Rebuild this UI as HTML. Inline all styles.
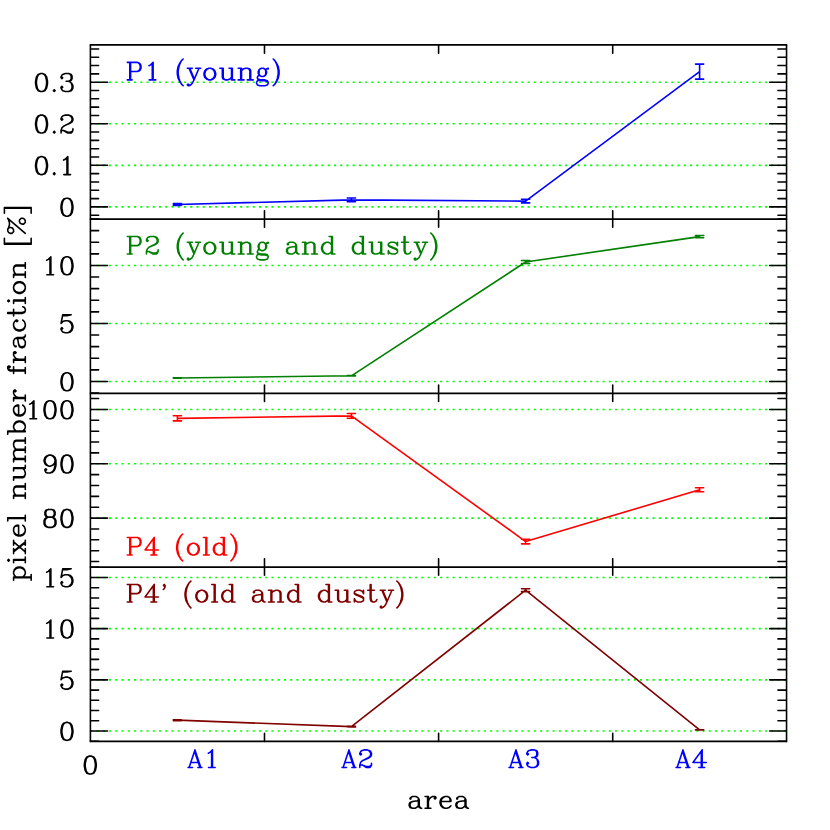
<!DOCTYPE html>
<html><head><meta charset="utf-8"><title>pixel number fraction</title>
<style>html,body{margin:0;padding:0;background:#fff;font-family:"Liberation Sans",sans-serif}svg{display:block}</style>
</head><body>
<svg width="830" height="830" viewBox="0 0 830 830">
<path d="M90.25 206.90 H786.55 M90.25 165.33 H786.55 M90.25 123.77 H786.55 M90.25 82.20 H786.55 M90.25 381.45 H786.55 M90.25 323.45 H786.55 M90.25 265.45 H786.55 M90.25 518.10 H786.55 M90.25 463.77 H786.55 M90.25 409.45 H786.55 M90.25 731.05 H786.55 M90.25 679.85 H786.55 M90.25 628.65 H786.55 M90.25 577.45 H786.55" stroke="#00ff00" stroke-width="1.6" stroke-dasharray="2.1000 4.1474" fill="none"/>
<path d="M177.40 204.50 L351.40 199.90 L525.60 201.10 L699.60 71.60 M177.40 203.65 V205.35 M173.30 203.65 H181.50 M173.30 205.35 H181.50 M351.40 198.00 V201.80 M347.30 198.00 H355.50 M347.30 201.80 H355.50 M525.60 199.30 V202.90 M521.50 199.30 H529.70 M521.50 202.90 H529.70 M699.60 64.10 V79.10 M695.50 64.10 H703.70 M695.50 79.10 H703.70" stroke="#0000ff" stroke-width="1.6" fill="none" stroke-linejoin="round" stroke-linecap="round"/>
<path d="M177.40 378.05 L351.40 375.80 L525.60 262.00 L699.60 236.65 M177.40 377.80 V378.30 M173.30 377.80 H181.50 M173.30 378.30 H181.50 M351.40 375.60 V376.00 M347.30 375.60 H355.50 M347.30 376.00 H355.50 M525.60 260.55 V263.45 M521.50 260.55 H529.70 M521.50 263.45 H529.70 M699.60 235.50 V237.80 M695.50 235.50 H703.70 M695.50 237.80 H703.70" stroke="#008000" stroke-width="1.6" fill="none" stroke-linejoin="round" stroke-linecap="round"/>
<path d="M177.40 418.35 L351.40 415.85 L525.60 541.55 L699.60 489.75 M177.40 415.80 V420.90 M173.30 415.80 H181.50 M173.30 420.90 H181.50 M351.40 413.50 V418.20 M347.30 413.50 H355.50 M347.30 418.20 H355.50 M525.60 539.25 V543.85 M521.50 539.25 H529.70 M521.50 543.85 H529.70 M699.60 487.70 V491.80 M695.50 487.70 H703.70 M695.50 491.80 H703.70" stroke="#ff0000" stroke-width="1.6" fill="none" stroke-linejoin="round" stroke-linecap="round"/>
<path d="M177.40 720.15 L351.40 726.65 L525.60 590.15 L699.60 729.90 M177.40 719.70 V720.60 M173.30 719.70 H181.50 M173.30 720.60 H181.50 M351.40 726.35 V726.95 M347.30 726.35 H355.50 M347.30 726.95 H355.50 M525.60 588.70 V591.60 M521.50 588.70 H529.70 M521.50 591.60 H529.70 M699.60 729.80 V730.00 M695.50 729.80 H703.70 M695.50 730.00 H703.70" stroke="#800000" stroke-width="1.6" fill="none" stroke-linejoin="round" stroke-linecap="round"/>
<path d="M89.80 44.95 H787.15 M89.80 219.00 H787.15 M89.80 393.25 H787.15 M89.80 567.00 H787.15 M89.80 741.40 H787.15" stroke="#000" stroke-width="1.75" fill="none"/>
<path d="M90.40 44.95 V741.40 M786.55 44.95 V741.40 M264.49 44.95 v8.20 M264.49 210.80 V227.20 M264.49 385.05 V401.45 M264.49 558.80 V575.20 M264.49 741.40 v-8.20 M438.60 44.95 v8.20 M438.60 210.80 V227.20 M438.60 385.05 V401.45 M438.60 558.80 V575.20 M438.60 741.40 v-8.20 M612.71 44.95 v8.20 M612.71 210.80 V227.20 M612.71 385.05 V401.45 M612.71 558.80 V575.20 M612.71 741.40 v-8.20 M90.40 215.21 h8.20 M786.55 215.21 h-8.60 M90.40 206.90 h17.20 M786.55 206.90 h-16.90 M90.40 198.59 h8.20 M786.55 198.59 h-8.60 M90.40 190.27 h8.20 M786.55 190.27 h-8.60 M90.40 181.96 h8.20 M786.55 181.96 h-8.60 M90.40 173.65 h8.20 M786.55 173.65 h-8.60 M90.40 165.33 h17.20 M786.55 165.33 h-16.90 M90.40 157.02 h8.20 M786.55 157.02 h-8.60 M90.40 148.71 h8.20 M786.55 148.71 h-8.60 M90.40 140.39 h8.20 M786.55 140.39 h-8.60 M90.40 132.08 h8.20 M786.55 132.08 h-8.60 M90.40 123.77 h17.20 M786.55 123.77 h-16.90 M90.40 115.45 h8.20 M786.55 115.45 h-8.60 M90.40 107.14 h8.20 M786.55 107.14 h-8.60 M90.40 98.83 h8.20 M786.55 98.83 h-8.60 M90.40 90.51 h8.20 M786.55 90.51 h-8.60 M90.40 82.20 h17.20 M786.55 82.20 h-16.90 M90.40 73.89 h8.20 M786.55 73.89 h-8.60 M90.40 65.57 h8.20 M786.55 65.57 h-8.60 M90.40 57.26 h8.20 M786.55 57.26 h-8.60 M90.40 48.95 h8.20 M786.55 48.95 h-8.60 M90.40 393.05 h8.20 M786.55 393.05 h-8.60 M90.40 381.45 h17.20 M786.55 381.45 h-16.90 M90.40 369.85 h8.20 M786.55 369.85 h-8.60 M90.40 358.25 h8.20 M786.55 358.25 h-8.60 M90.40 346.65 h8.20 M786.55 346.65 h-8.60 M90.40 335.05 h8.20 M786.55 335.05 h-8.60 M90.40 323.45 h17.20 M786.55 323.45 h-16.90 M90.40 311.85 h8.20 M786.55 311.85 h-8.60 M90.40 300.25 h8.20 M786.55 300.25 h-8.60 M90.40 288.65 h8.20 M786.55 288.65 h-8.60 M90.40 277.05 h8.20 M786.55 277.05 h-8.60 M90.40 265.45 h17.20 M786.55 265.45 h-16.90 M90.40 253.85 h8.20 M786.55 253.85 h-8.60 M90.40 242.25 h8.20 M786.55 242.25 h-8.60 M90.40 230.65 h8.20 M786.55 230.65 h-8.60 M90.40 219.05 h8.20 M786.55 219.05 h-8.60 M90.40 561.56 h8.20 M786.55 561.56 h-8.60 M90.40 550.70 h8.20 M786.55 550.70 h-8.60 M90.40 539.83 h8.20 M786.55 539.83 h-8.60 M90.40 528.97 h8.20 M786.55 528.97 h-8.60 M90.40 518.10 h17.20 M786.55 518.10 h-16.90 M90.40 507.24 h8.20 M786.55 507.24 h-8.60 M90.40 496.37 h8.20 M786.55 496.37 h-8.60 M90.40 485.50 h8.20 M786.55 485.50 h-8.60 M90.40 474.64 h8.20 M786.55 474.64 h-8.60 M90.40 463.77 h17.20 M786.55 463.77 h-16.90 M90.40 452.91 h8.20 M786.55 452.91 h-8.60 M90.40 442.05 h8.20 M786.55 442.05 h-8.60 M90.40 431.18 h8.20 M786.55 431.18 h-8.60 M90.40 420.31 h8.20 M786.55 420.31 h-8.60 M90.40 409.45 h17.20 M786.55 409.45 h-16.90 M90.40 398.58 h8.20 M786.55 398.58 h-8.60 M90.40 741.29 h8.20 M786.55 741.29 h-8.60 M90.40 731.05 h17.20 M786.55 731.05 h-16.90 M90.40 720.81 h8.20 M786.55 720.81 h-8.60 M90.40 710.57 h8.20 M786.55 710.57 h-8.60 M90.40 700.33 h8.20 M786.55 700.33 h-8.60 M90.40 690.09 h8.20 M786.55 690.09 h-8.60 M90.40 679.85 h17.20 M786.55 679.85 h-16.90 M90.40 669.61 h8.20 M786.55 669.61 h-8.60 M90.40 659.37 h8.20 M786.55 659.37 h-8.60 M90.40 649.13 h8.20 M786.55 649.13 h-8.60 M90.40 638.89 h8.20 M786.55 638.89 h-8.60 M90.40 628.65 h17.20 M786.55 628.65 h-16.90 M90.40 618.41 h8.20 M786.55 618.41 h-8.60 M90.40 608.17 h8.20 M786.55 608.17 h-8.60 M90.40 597.93 h8.20 M786.55 597.93 h-8.60 M90.40 587.69 h8.20 M786.55 587.69 h-8.60 M90.40 577.45 h17.20 M786.55 577.45 h-16.90 M90.40 567.21 h8.20 M786.55 567.21 h-8.60" stroke="#000" stroke-width="1.58" fill="none" stroke-linecap="round" stroke-linejoin="miter"/>
<path transform="translate(125.60 79.90) translate(0.00 0)" d="M4.17 -17.56 L4.17 0.00 M5.00 -17.56 L5.00 0.00 M1.67 -17.56 L11.68 -17.56 L13.88 -16.72 L14.61 -15.88 L15.35 -14.21 L15.35 -11.70 L14.61 -10.03 L13.88 -9.20 L11.68 -8.36 L5.00 -8.36 M11.68 -17.56 L13.14 -16.72 L13.88 -15.88 L14.61 -14.21 L14.61 -11.70 L13.88 -10.03 L13.14 -9.20 L11.68 -8.36 M1.67 0.00 L6.51 0.00 M23.35 -14.21 L25.02 -15.05 L27.52 -17.56 L27.52 0.00 M26.69 -16.72 L26.69 0.00 M23.60 0.00 L30.19 0.00 M57.55 -20.90 L55.88 -19.23 L54.21 -16.72 L52.54 -13.38 L51.71 -9.20 L51.71 -5.85 L52.54 -1.67 L54.21 1.67 L55.88 4.18 L57.55 5.85 M55.88 -19.23 L54.21 -15.88 L53.38 -13.38 L52.54 -9.20 L52.54 -5.85 L53.38 -1.67 L54.21 0.84 L55.88 4.18 M63.38 -11.70 L68.39 0.00 M64.22 -11.70 L68.39 -1.67 M73.39 -11.70 L68.39 0.00 L66.72 3.34 L65.05 5.02 L63.38 5.85 L62.55 5.85 L61.72 5.02 L62.55 4.18 L63.38 5.02 M61.72 -11.70 L66.72 -11.70 M70.06 -11.70 L75.06 -11.70 M83.40 -11.70 L80.90 -10.87 L79.23 -9.20 L78.40 -6.69 L78.40 -5.02 L79.23 -2.51 L80.90 -0.84 L83.40 0.00 L85.07 0.00 L87.57 -0.84 L89.24 -2.51 L90.07 -5.02 L90.07 -6.69 L89.24 -9.20 L87.57 -10.87 L85.07 -11.70 L83.40 -11.70 M83.40 -11.70 L81.73 -10.87 L80.06 -9.20 L79.23 -6.69 L79.23 -5.02 L80.06 -2.51 L81.73 -0.84 L83.40 0.00 M85.07 0.00 L86.74 -0.84 L88.40 -2.51 L89.24 -5.02 L89.24 -6.69 L88.40 -9.20 L86.74 -10.87 L85.07 -11.70 M96.74 -11.70 L96.74 -2.51 L97.58 -0.84 L100.08 0.00 L101.75 0.00 L104.25 -0.84 L105.92 -2.51 M97.58 -11.70 L97.58 -2.51 L98.41 -0.84 L100.08 0.00 M105.92 -11.70 L105.92 0.00 M106.75 -11.70 L106.75 0.00 M94.24 -11.70 L97.58 -11.70 M103.42 -11.70 L106.75 -11.70 M105.92 0.00 L109.25 0.00 M115.09 -11.70 L115.09 0.00 M115.93 -11.70 L115.93 0.00 M115.93 -9.20 L117.59 -10.87 L120.10 -11.70 L121.76 -11.70 L124.27 -10.87 L125.10 -9.20 L125.10 0.00 M121.76 -11.70 L123.43 -10.87 L124.27 -9.20 L124.27 0.00 M112.59 -11.70 L115.93 -11.70 M112.59 0.00 L118.43 0.00 M121.76 0.00 L127.60 0.00 M135.94 -11.70 L134.27 -10.87 L133.44 -10.03 L132.61 -8.36 L132.61 -6.69 L133.44 -5.02 L134.27 -4.18 L135.94 -3.34 L137.61 -3.34 L139.28 -4.18 L140.11 -5.02 L140.95 -6.69 L140.95 -8.36 L140.11 -10.03 L139.28 -10.87 L137.61 -11.70 L135.94 -11.70 M134.27 -10.87 L133.44 -9.20 L133.44 -5.85 L134.27 -4.18 M139.28 -4.18 L140.11 -5.85 L140.11 -9.20 L139.28 -10.87 M140.11 -10.03 L140.95 -10.87 L142.61 -11.70 L142.61 -10.87 L140.95 -10.87 M133.44 -5.02 L132.61 -4.18 L131.77 -2.51 L131.77 -1.67 L132.61 0.00 L135.11 0.84 L139.28 0.84 L141.78 1.67 L142.61 2.51 M131.77 -1.67 L132.61 -0.84 L135.11 0.00 L139.28 0.00 L141.78 0.84 L142.61 2.51 L142.61 3.34 L141.78 5.02 L139.28 5.85 L134.27 5.85 L131.77 5.02 L130.94 3.34 L130.94 2.51 L131.77 0.84 L134.27 0.00 M147.62 -20.90 L149.29 -19.23 L150.95 -16.72 L152.62 -13.38 L153.46 -9.20 L153.46 -5.85 L152.62 -1.67 L150.95 1.67 L149.29 4.18 L147.62 5.85 M149.29 -19.23 L150.95 -15.88 L151.79 -13.38 L152.62 -9.20 L152.62 -5.85 L151.79 -1.67 L150.95 0.84 L149.29 4.18" stroke="#0000ff" stroke-width="1.58" fill="none" stroke-linecap="round" stroke-linejoin="round"/>
<path transform="translate(125.60 254.00) translate(0.00 0)" d="M4.17 -17.56 L4.17 0.00 M5.00 -17.56 L5.00 0.00 M1.67 -17.56 L11.68 -17.56 L13.88 -16.72 L14.61 -15.88 L15.35 -14.21 L15.35 -11.70 L14.61 -10.03 L13.88 -9.20 L11.68 -8.36 L5.00 -8.36 M11.68 -17.56 L13.14 -16.72 L13.88 -15.88 L14.61 -14.21 L14.61 -11.70 L13.88 -10.03 L13.14 -9.20 L11.68 -8.36 M1.67 0.00 L6.51 0.00 M21.68 -14.21 L22.52 -13.38 L21.68 -12.54 L20.85 -13.38 L20.85 -14.21 L21.68 -15.88 L22.52 -16.72 L25.02 -17.56 L28.36 -17.56 L30.86 -16.72 L31.69 -15.88 L32.53 -14.21 L32.53 -12.54 L31.69 -10.87 L29.19 -9.20 L25.02 -7.52 L23.35 -6.69 L21.68 -5.02 L20.85 -2.51 L20.85 0.00 M28.36 -17.56 L30.02 -16.72 L30.86 -15.88 L31.69 -14.21 L31.69 -12.54 L30.86 -10.87 L28.36 -9.20 L25.02 -7.52 M20.85 -1.67 L21.68 -2.51 L23.35 -2.51 L27.52 -0.84 L30.02 -0.84 L31.69 -1.67 L32.53 -2.51 M23.35 -2.51 L27.52 0.00 L30.86 0.00 L31.69 -0.84 L32.53 -2.51 L32.53 -4.18 M57.55 -20.90 L55.88 -19.23 L54.21 -16.72 L52.54 -13.38 L51.71 -9.20 L51.71 -5.85 L52.54 -1.67 L54.21 1.67 L55.88 4.18 L57.55 5.85 M55.88 -19.23 L54.21 -15.88 L53.38 -13.38 L52.54 -9.20 L52.54 -5.85 L53.38 -1.67 L54.21 0.84 L55.88 4.18 M63.38 -11.70 L68.39 0.00 M64.22 -11.70 L68.39 -1.67 M73.39 -11.70 L68.39 0.00 L66.72 3.34 L65.05 5.02 L63.38 5.85 L62.55 5.85 L61.72 5.02 L62.55 4.18 L63.38 5.02 M61.72 -11.70 L66.72 -11.70 M70.06 -11.70 L75.06 -11.70 M83.40 -11.70 L80.90 -10.87 L79.23 -9.20 L78.40 -6.69 L78.40 -5.02 L79.23 -2.51 L80.90 -0.84 L83.40 0.00 L85.07 0.00 L87.57 -0.84 L89.24 -2.51 L90.07 -5.02 L90.07 -6.69 L89.24 -9.20 L87.57 -10.87 L85.07 -11.70 L83.40 -11.70 M83.40 -11.70 L81.73 -10.87 L80.06 -9.20 L79.23 -6.69 L79.23 -5.02 L80.06 -2.51 L81.73 -0.84 L83.40 0.00 M85.07 0.00 L86.74 -0.84 L88.40 -2.51 L89.24 -5.02 L89.24 -6.69 L88.40 -9.20 L86.74 -10.87 L85.07 -11.70 M96.74 -11.70 L96.74 -2.51 L97.58 -0.84 L100.08 0.00 L101.75 0.00 L104.25 -0.84 L105.92 -2.51 M97.58 -11.70 L97.58 -2.51 L98.41 -0.84 L100.08 0.00 M105.92 -11.70 L105.92 0.00 M106.75 -11.70 L106.75 0.00 M94.24 -11.70 L97.58 -11.70 M103.42 -11.70 L106.75 -11.70 M105.92 0.00 L109.25 0.00 M115.09 -11.70 L115.09 0.00 M115.93 -11.70 L115.93 0.00 M115.93 -9.20 L117.59 -10.87 L120.10 -11.70 L121.76 -11.70 L124.27 -10.87 L125.10 -9.20 L125.10 0.00 M121.76 -11.70 L123.43 -10.87 L124.27 -9.20 L124.27 0.00 M112.59 -11.70 L115.93 -11.70 M112.59 0.00 L118.43 0.00 M121.76 0.00 L127.60 0.00 M135.94 -11.70 L134.27 -10.87 L133.44 -10.03 L132.61 -8.36 L132.61 -6.69 L133.44 -5.02 L134.27 -4.18 L135.94 -3.34 L137.61 -3.34 L139.28 -4.18 L140.11 -5.02 L140.95 -6.69 L140.95 -8.36 L140.11 -10.03 L139.28 -10.87 L137.61 -11.70 L135.94 -11.70 M134.27 -10.87 L133.44 -9.20 L133.44 -5.85 L134.27 -4.18 M139.28 -4.18 L140.11 -5.85 L140.11 -9.20 L139.28 -10.87 M140.11 -10.03 L140.95 -10.87 L142.61 -11.70 L142.61 -10.87 L140.95 -10.87 M133.44 -5.02 L132.61 -4.18 L131.77 -2.51 L131.77 -1.67 L132.61 0.00 L135.11 0.84 L139.28 0.84 L141.78 1.67 L142.61 2.51 M131.77 -1.67 L132.61 -0.84 L135.11 0.00 L139.28 0.00 L141.78 0.84 L142.61 2.51 L142.61 3.34 L141.78 5.02 L139.28 5.85 L134.27 5.85 L131.77 5.02 L130.94 3.34 L130.94 2.51 L131.77 0.84 L134.27 0.00 M162.63 -10.03 L162.63 -9.20 L161.80 -9.20 L161.80 -10.03 L162.63 -10.87 L164.30 -11.70 L167.63 -11.70 L169.30 -10.87 L170.14 -10.03 L170.97 -8.36 L170.97 -2.51 L171.80 -0.84 L172.64 0.00 M170.14 -10.03 L170.14 -2.51 L170.97 -0.84 L172.64 0.00 L173.47 0.00 M170.14 -8.36 L169.30 -7.52 L164.30 -6.69 L161.80 -5.85 L160.96 -4.18 L160.96 -2.51 L161.80 -0.84 L164.30 0.00 L166.80 0.00 L168.47 -0.84 L170.14 -2.51 M164.30 -6.69 L162.63 -5.85 L161.80 -4.18 L161.80 -2.51 L162.63 -0.84 L164.30 0.00 M179.31 -11.70 L179.31 0.00 M180.14 -11.70 L180.14 0.00 M180.14 -9.20 L181.81 -10.87 L184.31 -11.70 L185.98 -11.70 L188.48 -10.87 L189.32 -9.20 L189.32 0.00 M185.98 -11.70 L187.65 -10.87 L188.48 -9.20 L188.48 0.00 M176.81 -11.70 L180.14 -11.70 M176.81 0.00 L182.65 0.00 M185.98 0.00 L191.82 0.00 M206.00 -17.56 L206.00 0.00 M206.83 -17.56 L206.83 0.00 M206.00 -9.20 L204.33 -10.87 L202.66 -11.70 L200.99 -11.70 L198.49 -10.87 L196.82 -9.20 L195.99 -6.69 L195.99 -5.02 L196.82 -2.51 L198.49 -0.84 L200.99 0.00 L202.66 0.00 L204.33 -0.84 L206.00 -2.51 M200.99 -11.70 L199.33 -10.87 L197.66 -9.20 L196.82 -6.69 L196.82 -5.02 L197.66 -2.51 L199.33 -0.84 L200.99 0.00 M203.50 -17.56 L206.83 -17.56 M206.00 0.00 L209.33 0.00 M236.86 -17.56 L236.86 0.00 M237.69 -17.56 L237.69 0.00 M236.86 -9.20 L235.19 -10.87 L233.52 -11.70 L231.85 -11.70 L229.35 -10.87 L227.68 -9.20 L226.85 -6.69 L226.85 -5.02 L227.68 -2.51 L229.35 -0.84 L231.85 0.00 L233.52 0.00 L235.19 -0.84 L236.86 -2.51 M231.85 -11.70 L230.18 -10.87 L228.52 -9.20 L227.68 -6.69 L227.68 -5.02 L228.52 -2.51 L230.18 -0.84 L231.85 0.00 M234.35 -17.56 L237.69 -17.56 M236.86 0.00 L240.19 0.00 M246.03 -11.70 L246.03 -2.51 L246.86 -0.84 L249.37 0.00 L251.03 0.00 L253.54 -0.84 L255.20 -2.51 M246.86 -11.70 L246.86 -2.51 L247.70 -0.84 L249.37 0.00 M255.20 -11.70 L255.20 0.00 M256.04 -11.70 L256.04 0.00 M243.53 -11.70 L246.86 -11.70 M252.70 -11.70 L256.04 -11.70 M255.20 0.00 L258.54 0.00 M271.05 -10.03 L271.88 -11.70 L271.88 -8.36 L271.05 -10.03 L270.22 -10.87 L268.55 -11.70 L265.21 -11.70 L263.54 -10.87 L262.71 -10.03 L262.71 -8.36 L263.54 -7.52 L265.21 -6.69 L269.38 -5.02 L271.05 -4.18 L271.88 -3.34 M262.71 -9.20 L263.54 -8.36 L265.21 -7.52 L269.38 -5.85 L271.05 -5.02 L271.88 -4.18 L271.88 -1.67 L271.05 -0.84 L269.38 0.00 L266.05 0.00 L264.38 -0.84 L263.54 -1.67 L262.71 -3.34 L262.71 0.00 L263.54 -1.67 M278.56 -17.56 L278.56 -3.34 L279.39 -0.84 L281.06 0.00 L282.73 0.00 L284.39 -0.84 L285.23 -2.51 M279.39 -17.56 L279.39 -3.34 L280.22 -0.84 L281.06 0.00 M276.05 -11.70 L282.73 -11.70 M290.23 -11.70 L295.24 0.00 M291.07 -11.70 L295.24 -1.67 M300.24 -11.70 L295.24 0.00 L293.57 3.34 L291.90 5.02 L290.23 5.85 L289.40 5.85 L288.56 5.02 L289.40 4.18 L290.23 5.02 M288.56 -11.70 L293.57 -11.70 M296.90 -11.70 L301.91 -11.70 M305.24 -20.90 L306.91 -19.23 L308.58 -16.72 L310.25 -13.38 L311.08 -9.20 L311.08 -5.85 L310.25 -1.67 L308.58 1.67 L306.91 4.18 L305.24 5.85 M306.91 -19.23 L308.58 -15.88 L309.41 -13.38 L310.25 -9.20 L310.25 -5.85 L309.41 -1.67 L308.58 0.84 L306.91 4.18" stroke="#008000" stroke-width="1.58" fill="none" stroke-linecap="round" stroke-linejoin="round"/>
<path transform="translate(125.60 555.00) translate(0.00 0)" d="M4.17 -17.56 L4.17 0.00 M5.00 -17.56 L5.00 0.00 M1.67 -17.56 L11.68 -17.56 L13.88 -16.72 L14.61 -15.88 L15.35 -14.21 L15.35 -11.70 L14.61 -10.03 L13.88 -9.20 L11.68 -8.36 L5.00 -8.36 M11.68 -17.56 L13.14 -16.72 L13.88 -15.88 L14.61 -14.21 L14.61 -11.70 L13.88 -10.03 L13.14 -9.20 L11.68 -8.36 M1.67 0.00 L6.51 0.00 M27.77 -15.88 L27.77 0.00 M28.61 -17.56 L28.61 0.00 M28.61 -17.56 L19.43 -5.02 L32.78 -5.02 M25.27 0.00 L31.11 0.00 M56.96 -20.90 L55.29 -19.23 L53.63 -16.72 L51.96 -13.38 L51.12 -9.20 L51.12 -5.85 L51.96 -1.67 L53.63 1.67 L55.29 4.18 L56.96 5.85 M55.29 -19.23 L53.63 -15.88 L52.79 -13.38 L51.96 -9.20 L51.96 -5.85 L52.79 -1.67 L53.63 0.84 L55.29 4.18 M66.97 -11.70 L64.47 -10.87 L62.80 -9.20 L61.97 -6.69 L61.97 -5.02 L62.80 -2.51 L64.47 -0.84 L66.97 0.00 L68.64 0.00 L71.14 -0.84 L72.81 -2.51 L73.64 -5.02 L73.64 -6.69 L72.81 -9.20 L71.14 -10.87 L68.64 -11.70 L66.97 -11.70 M66.97 -11.70 L65.30 -10.87 L63.63 -9.20 L62.80 -6.69 L62.80 -5.02 L63.63 -2.51 L65.30 -0.84 L66.97 0.00 M68.64 0.00 L70.31 -0.84 L71.97 -2.51 L72.81 -5.02 L72.81 -6.69 L71.97 -9.20 L70.31 -10.87 L68.64 -11.70 M80.31 -17.56 L80.31 0.00 M81.15 -17.56 L81.15 0.00 M77.81 -17.56 L81.15 -17.56 M77.81 0.00 L83.65 0.00 M97.83 -17.56 L97.83 0.00 M98.66 -17.56 L98.66 0.00 M97.83 -9.20 L96.16 -10.87 L94.49 -11.70 L92.82 -11.70 L90.32 -10.87 L88.65 -9.20 L87.82 -6.69 L87.82 -5.02 L88.65 -2.51 L90.32 -0.84 L92.82 0.00 L94.49 0.00 L96.16 -0.84 L97.83 -2.51 M92.82 -11.70 L91.16 -10.87 L89.49 -9.20 L88.65 -6.69 L88.65 -5.02 L89.49 -2.51 L91.16 -0.84 L92.82 0.00 M95.33 -17.56 L98.66 -17.56 M97.83 0.00 L101.16 0.00 M105.33 -20.90 L107.00 -19.23 L108.67 -16.72 L110.34 -13.38 L111.17 -9.20 L111.17 -5.85 L110.34 -1.67 L108.67 1.67 L107.00 4.18 L105.33 5.85 M107.00 -19.23 L108.67 -15.88 L109.50 -13.38 L110.34 -9.20 L110.34 -5.85 L109.50 -1.67 L108.67 0.84 L107.00 4.18" stroke="#ff0000" stroke-width="1.58" fill="none" stroke-linecap="round" stroke-linejoin="round"/>
<path transform="translate(125.60 602.00) translate(0.00 0)" d="M4.17 -17.56 L4.17 0.00 M5.00 -17.56 L5.00 0.00 M1.67 -17.56 L11.68 -17.56 L13.88 -16.72 L14.61 -15.88 L15.35 -14.21 L15.35 -11.70 L14.61 -10.03 L13.88 -9.20 L11.68 -8.36 L5.00 -8.36 M11.68 -17.56 L13.14 -16.72 L13.88 -15.88 L14.61 -14.21 L14.61 -11.70 L13.88 -10.03 L13.14 -9.20 L11.68 -8.36 M1.67 0.00 L6.51 0.00 M27.77 -15.88 L27.77 0.00 M28.61 -17.56 L28.61 0.00 M28.61 -17.56 L19.43 -5.02 L32.78 -5.02 M25.27 0.00 L31.11 0.00 M38.61 -15.88 L37.78 -16.72 L38.61 -17.56 L39.45 -16.72 L39.45 -15.05 L38.61 -13.38 L37.78 -12.54 M65.30 -20.90 L63.63 -19.23 L61.97 -16.72 L60.30 -13.38 L59.46 -9.20 L59.46 -5.85 L60.30 -1.67 L61.97 1.67 L63.63 4.18 L65.30 5.85 M63.63 -19.23 L61.97 -15.88 L61.13 -13.38 L60.30 -9.20 L60.30 -5.85 L61.13 -1.67 L61.97 0.84 L63.63 4.18 M75.31 -11.70 L72.81 -10.87 L71.14 -9.20 L70.31 -6.69 L70.31 -5.02 L71.14 -2.51 L72.81 -0.84 L75.31 0.00 L76.98 0.00 L79.48 -0.84 L81.15 -2.51 L81.98 -5.02 L81.98 -6.69 L81.15 -9.20 L79.48 -10.87 L76.98 -11.70 L75.31 -11.70 M75.31 -11.70 L73.64 -10.87 L71.97 -9.20 L71.14 -6.69 L71.14 -5.02 L71.97 -2.51 L73.64 -0.84 L75.31 0.00 M76.98 0.00 L78.65 -0.84 L80.31 -2.51 L81.15 -5.02 L81.15 -6.69 L80.31 -9.20 L78.65 -10.87 L76.98 -11.70 M88.65 -17.56 L88.65 0.00 M89.49 -17.56 L89.49 0.00 M86.15 -17.56 L89.49 -17.56 M86.15 0.00 L91.99 0.00 M106.17 -17.56 L106.17 0.00 M107.00 -17.56 L107.00 0.00 M106.17 -9.20 L104.50 -10.87 L102.83 -11.70 L101.16 -11.70 L98.66 -10.87 L96.99 -9.20 L96.16 -6.69 L96.16 -5.02 L96.99 -2.51 L98.66 -0.84 L101.16 0.00 L102.83 0.00 L104.50 -0.84 L106.17 -2.51 M101.16 -11.70 L99.50 -10.87 L97.83 -9.20 L96.99 -6.69 L96.99 -5.02 L97.83 -2.51 L99.50 -0.84 L101.16 0.00 M103.67 -17.56 L107.00 -17.56 M106.17 0.00 L109.50 0.00 M128.69 -10.03 L128.69 -9.20 L127.85 -9.20 L127.85 -10.03 L128.69 -10.87 L130.35 -11.70 L133.69 -11.70 L135.36 -10.87 L136.19 -10.03 L137.03 -8.36 L137.03 -2.51 L137.86 -0.84 L138.69 0.00 M136.19 -10.03 L136.19 -2.51 L137.03 -0.84 L138.69 0.00 L139.53 0.00 M136.19 -8.36 L135.36 -7.52 L130.35 -6.69 L127.85 -5.85 L127.02 -4.18 L127.02 -2.51 L127.85 -0.84 L130.35 0.00 L132.86 0.00 L134.52 -0.84 L136.19 -2.51 M130.35 -6.69 L128.69 -5.85 L127.85 -4.18 L127.85 -2.51 L128.69 -0.84 L130.35 0.00 M145.37 -11.70 L145.37 0.00 M146.20 -11.70 L146.20 0.00 M146.20 -9.20 L147.87 -10.87 L150.37 -11.70 L152.04 -11.70 L154.54 -10.87 L155.37 -9.20 L155.37 0.00 M152.04 -11.70 L153.71 -10.87 L154.54 -9.20 L154.54 0.00 M142.86 -11.70 L146.20 -11.70 M142.86 0.00 L148.70 0.00 M152.04 0.00 L157.88 0.00 M172.05 -17.56 L172.05 0.00 M172.89 -17.56 L172.89 0.00 M172.05 -9.20 L170.39 -10.87 L168.72 -11.70 L167.05 -11.70 L164.55 -10.87 L162.88 -9.20 L162.05 -6.69 L162.05 -5.02 L162.88 -2.51 L164.55 -0.84 L167.05 0.00 L168.72 0.00 L170.39 -0.84 L172.05 -2.51 M167.05 -11.70 L165.38 -10.87 L163.71 -9.20 L162.88 -6.69 L162.88 -5.02 L163.71 -2.51 L165.38 -0.84 L167.05 0.00 M169.55 -17.56 L172.89 -17.56 M172.05 0.00 L175.39 0.00 M202.91 -17.56 L202.91 0.00 M203.75 -17.56 L203.75 0.00 M202.91 -9.20 L201.24 -10.87 L199.58 -11.70 L197.91 -11.70 L195.41 -10.87 L193.74 -9.20 L192.90 -6.69 L192.90 -5.02 L193.74 -2.51 L195.41 -0.84 L197.91 0.00 L199.58 0.00 L201.24 -0.84 L202.91 -2.51 M197.91 -11.70 L196.24 -10.87 L194.57 -9.20 L193.74 -6.69 L193.74 -5.02 L194.57 -2.51 L196.24 -0.84 L197.91 0.00 M200.41 -17.56 L203.75 -17.56 M202.91 0.00 L206.25 0.00 M212.09 -11.70 L212.09 -2.51 L212.92 -0.84 L215.42 0.00 L217.09 0.00 L219.59 -0.84 L221.26 -2.51 M212.92 -11.70 L212.92 -2.51 L213.75 -0.84 L215.42 0.00 M221.26 -11.70 L221.26 0.00 M222.09 -11.70 L222.09 0.00 M209.58 -11.70 L212.92 -11.70 M218.76 -11.70 L222.09 -11.70 M221.26 0.00 L224.60 0.00 M237.11 -10.03 L237.94 -11.70 L237.94 -8.36 L237.11 -10.03 L236.27 -10.87 L234.60 -11.70 L231.27 -11.70 L229.60 -10.87 L228.77 -10.03 L228.77 -8.36 L229.60 -7.52 L231.27 -6.69 L235.44 -5.02 L237.11 -4.18 L237.94 -3.34 M228.77 -9.20 L229.60 -8.36 L231.27 -7.52 L235.44 -5.85 L237.11 -5.02 L237.94 -4.18 L237.94 -1.67 L237.11 -0.84 L235.44 0.00 L232.10 0.00 L230.43 -0.84 L229.60 -1.67 L228.77 -3.34 L228.77 0.00 L229.60 -1.67 M244.61 -17.56 L244.61 -3.34 L245.45 -0.84 L247.11 0.00 L248.78 0.00 L250.45 -0.84 L251.28 -2.51 M245.45 -17.56 L245.45 -3.34 L246.28 -0.84 L247.11 0.00 M242.11 -11.70 L248.78 -11.70 M256.29 -11.70 L261.29 0.00 M257.12 -11.70 L261.29 -1.67 M266.30 -11.70 L261.29 0.00 L259.62 3.34 L257.96 5.02 L256.29 5.85 L255.45 5.85 L254.62 5.02 L255.45 4.18 L256.29 5.02 M254.62 -11.70 L259.62 -11.70 M262.96 -11.70 L267.96 -11.70 M271.30 -20.90 L272.97 -19.23 L274.64 -16.72 L276.30 -13.38 L277.14 -9.20 L277.14 -5.85 L276.30 -1.67 L274.64 1.67 L272.97 4.18 L271.30 5.85 M272.97 -19.23 L274.64 -15.88 L275.47 -13.38 L276.30 -9.20 L276.30 -5.85 L275.47 -1.67 L274.64 0.84 L272.97 4.18" stroke="#800000" stroke-width="1.58" fill="none" stroke-linecap="round" stroke-linejoin="round"/>
<path transform="translate(75.45 216.18) translate(-16.96 0)" d="M7.63 -17.95 L5.09 -17.10 L3.39 -14.54 L2.54 -10.26 L2.54 -7.70 L3.39 -3.42 L5.09 -0.85 L7.63 0.00 L9.33 0.00 L11.87 -0.85 L13.57 -3.42 L14.42 -7.70 L14.42 -10.26 L13.57 -14.54 L11.87 -17.10 L9.33 -17.95 L7.63 -17.95 M7.63 -17.95 L5.94 -17.10 L5.09 -16.25 L4.24 -14.54 L3.39 -10.26 L3.39 -7.70 L4.24 -3.42 L5.09 -1.71 L5.94 -0.85 L7.63 0.00 M9.33 0.00 L11.02 -0.85 L11.87 -1.71 L12.72 -3.42 L13.57 -7.70 L13.57 -10.26 L12.72 -14.54 L11.87 -16.25 L11.02 -17.10 L9.33 -17.95" stroke="#000" stroke-width="1.58" fill="none" stroke-linecap="round" stroke-linejoin="round"/>
<path transform="translate(75.45 174.61) translate(-42.40 0)" d="M7.63 -17.95 L5.09 -17.10 L3.39 -14.54 L2.54 -10.26 L2.54 -7.70 L3.39 -3.42 L5.09 -0.85 L7.63 0.00 L9.33 0.00 L11.87 -0.85 L13.57 -3.42 L14.42 -7.70 L14.42 -10.26 L13.57 -14.54 L11.87 -17.10 L9.33 -17.95 L7.63 -17.95 M7.63 -17.95 L5.94 -17.10 L5.09 -16.25 L4.24 -14.54 L3.39 -10.26 L3.39 -7.70 L4.24 -3.42 L5.09 -1.71 L5.94 -0.85 L7.63 0.00 M9.33 0.00 L11.02 -0.85 L11.87 -1.71 L12.72 -3.42 L13.57 -7.70 L13.57 -10.26 L12.72 -14.54 L11.87 -16.25 L11.02 -17.10 L9.33 -17.95 M21.20 -1.71 L20.35 -0.85 L21.20 0.00 L22.05 -0.85 L21.20 -1.71 M30.53 -14.54 L32.22 -15.39 L34.77 -17.95 L34.77 0.00 M33.92 -17.10 L33.92 0.00 M30.78 0.00 L37.48 0.00" stroke="#000" stroke-width="1.58" fill="none" stroke-linecap="round" stroke-linejoin="round"/>
<path transform="translate(75.45 133.04) translate(-42.40 0)" d="M7.63 -17.95 L5.09 -17.10 L3.39 -14.54 L2.54 -10.26 L2.54 -7.70 L3.39 -3.42 L5.09 -0.85 L7.63 0.00 L9.33 0.00 L11.87 -0.85 L13.57 -3.42 L14.42 -7.70 L14.42 -10.26 L13.57 -14.54 L11.87 -17.10 L9.33 -17.95 L7.63 -17.95 M7.63 -17.95 L5.94 -17.10 L5.09 -16.25 L4.24 -14.54 L3.39 -10.26 L3.39 -7.70 L4.24 -3.42 L5.09 -1.71 L5.94 -0.85 L7.63 0.00 M9.33 0.00 L11.02 -0.85 L11.87 -1.71 L12.72 -3.42 L13.57 -7.70 L13.57 -10.26 L12.72 -14.54 L11.87 -16.25 L11.02 -17.10 L9.33 -17.95 M21.20 -1.71 L20.35 -0.85 L21.20 0.00 L22.05 -0.85 L21.20 -1.71 M28.83 -14.54 L29.68 -13.68 L28.83 -12.82 L27.98 -13.68 L27.98 -14.54 L28.83 -16.25 L29.68 -17.10 L32.22 -17.95 L35.62 -17.95 L38.16 -17.10 L39.01 -16.25 L39.86 -14.54 L39.86 -12.82 L39.01 -11.12 L36.46 -9.40 L32.22 -7.70 L30.53 -6.84 L28.83 -5.13 L27.98 -2.56 L27.98 0.00 M35.62 -17.95 L37.31 -17.10 L38.16 -16.25 L39.01 -14.54 L39.01 -12.82 L38.16 -11.12 L35.62 -9.40 L32.22 -7.70 M27.98 -1.71 L28.83 -2.56 L30.53 -2.56 L34.77 -0.85 L37.31 -0.85 L39.01 -1.71 L39.86 -2.56 M30.53 -2.56 L34.77 0.00 L38.16 0.00 L39.01 -0.85 L39.86 -2.56 L39.86 -4.28" stroke="#000" stroke-width="1.58" fill="none" stroke-linecap="round" stroke-linejoin="round"/>
<path transform="translate(75.45 91.48) translate(-42.40 0)" d="M7.63 -17.95 L5.09 -17.10 L3.39 -14.54 L2.54 -10.26 L2.54 -7.70 L3.39 -3.42 L5.09 -0.85 L7.63 0.00 L9.33 0.00 L11.87 -0.85 L13.57 -3.42 L14.42 -7.70 L14.42 -10.26 L13.57 -14.54 L11.87 -17.10 L9.33 -17.95 L7.63 -17.95 M7.63 -17.95 L5.94 -17.10 L5.09 -16.25 L4.24 -14.54 L3.39 -10.26 L3.39 -7.70 L4.24 -3.42 L5.09 -1.71 L5.94 -0.85 L7.63 0.00 M9.33 0.00 L11.02 -0.85 L11.87 -1.71 L12.72 -3.42 L13.57 -7.70 L13.57 -10.26 L12.72 -14.54 L11.87 -16.25 L11.02 -17.10 L9.33 -17.95 M21.20 -1.71 L20.35 -0.85 L21.20 0.00 L22.05 -0.85 L21.20 -1.71 M28.83 -14.54 L29.68 -13.68 L28.83 -12.82 L27.98 -13.68 L27.98 -14.54 L28.83 -16.25 L29.68 -17.10 L32.22 -17.95 L35.62 -17.95 L38.16 -17.10 L39.01 -15.39 L39.01 -12.82 L38.16 -11.12 L35.62 -10.26 L33.07 -10.26 M35.62 -17.95 L37.31 -17.10 L38.16 -15.39 L38.16 -12.82 L37.31 -11.12 L35.62 -10.26 M35.62 -10.26 L37.31 -9.40 L39.01 -7.70 L39.86 -5.98 L39.86 -3.42 L39.01 -1.71 L38.16 -0.85 L35.62 0.00 L32.22 0.00 L29.68 -0.85 L28.83 -1.71 L27.98 -3.42 L27.98 -4.28 L28.83 -5.13 L29.68 -4.28 L28.83 -3.42 M38.16 -8.55 L39.01 -5.98 L39.01 -3.42 L38.16 -1.71 L37.31 -0.85 L35.62 0.00" stroke="#000" stroke-width="1.58" fill="none" stroke-linecap="round" stroke-linejoin="round"/>
<path transform="translate(75.45 390.73) translate(-16.96 0)" d="M7.63 -17.95 L5.09 -17.10 L3.39 -14.54 L2.54 -10.26 L2.54 -7.70 L3.39 -3.42 L5.09 -0.85 L7.63 0.00 L9.33 0.00 L11.87 -0.85 L13.57 -3.42 L14.42 -7.70 L14.42 -10.26 L13.57 -14.54 L11.87 -17.10 L9.33 -17.95 L7.63 -17.95 M7.63 -17.95 L5.94 -17.10 L5.09 -16.25 L4.24 -14.54 L3.39 -10.26 L3.39 -7.70 L4.24 -3.42 L5.09 -1.71 L5.94 -0.85 L7.63 0.00 M9.33 0.00 L11.02 -0.85 L11.87 -1.71 L12.72 -3.42 L13.57 -7.70 L13.57 -10.26 L12.72 -14.54 L11.87 -16.25 L11.02 -17.10 L9.33 -17.95" stroke="#000" stroke-width="1.58" fill="none" stroke-linecap="round" stroke-linejoin="round"/>
<path transform="translate(75.45 332.73) translate(-16.96 0)" d="M4.24 -17.95 L2.54 -9.40 M2.54 -9.40 L4.24 -11.12 L6.78 -11.97 L9.33 -11.97 L11.87 -11.12 L13.57 -9.40 L14.42 -6.84 L14.42 -5.13 L13.57 -2.56 L11.87 -0.85 L9.33 0.00 L6.78 0.00 L4.24 -0.85 L3.39 -1.71 L2.54 -3.42 L2.54 -4.28 L3.39 -5.13 L4.24 -4.28 L3.39 -3.42 M9.33 -11.97 L11.02 -11.12 L12.72 -9.40 L13.57 -6.84 L13.57 -5.13 L12.72 -2.56 L11.02 -0.85 L9.33 0.00 M4.24 -17.95 L12.72 -17.95 M4.24 -17.10 L8.48 -17.10 L12.72 -17.95" stroke="#000" stroke-width="1.58" fill="none" stroke-linecap="round" stroke-linejoin="round"/>
<path transform="translate(75.45 274.73) translate(-33.92 0)" d="M5.09 -14.54 L6.78 -15.39 L9.33 -17.95 L9.33 0.00 M8.48 -17.10 L8.48 0.00 M5.34 0.00 L12.04 0.00 M24.59 -17.95 L22.05 -17.10 L20.35 -14.54 L19.50 -10.26 L19.50 -7.70 L20.35 -3.42 L22.05 -0.85 L24.59 0.00 L26.29 0.00 L28.83 -0.85 L30.53 -3.42 L31.38 -7.70 L31.38 -10.26 L30.53 -14.54 L28.83 -17.10 L26.29 -17.95 L24.59 -17.95 M24.59 -17.95 L22.90 -17.10 L22.05 -16.25 L21.20 -14.54 L20.35 -10.26 L20.35 -7.70 L21.20 -3.42 L22.05 -1.71 L22.90 -0.85 L24.59 0.00 M26.29 0.00 L27.98 -0.85 L28.83 -1.71 L29.68 -3.42 L30.53 -7.70 L30.53 -10.26 L29.68 -14.54 L28.83 -16.25 L27.98 -17.10 L26.29 -17.95" stroke="#000" stroke-width="1.58" fill="none" stroke-linecap="round" stroke-linejoin="round"/>
<path transform="translate(75.45 527.38) translate(-33.92 0)" d="M6.78 -17.95 L4.24 -17.10 L3.39 -15.39 L3.39 -12.82 L4.24 -11.12 L6.78 -10.26 L10.18 -10.26 L12.72 -11.12 L13.57 -12.82 L13.57 -15.39 L12.72 -17.10 L10.18 -17.95 L6.78 -17.95 M6.78 -17.95 L5.09 -17.10 L4.24 -15.39 L4.24 -12.82 L5.09 -11.12 L6.78 -10.26 M10.18 -10.26 L11.87 -11.12 L12.72 -12.82 L12.72 -15.39 L11.87 -17.10 L10.18 -17.95 M6.78 -10.26 L4.24 -9.40 L3.39 -8.55 L2.54 -6.84 L2.54 -3.42 L3.39 -1.71 L4.24 -0.85 L6.78 0.00 L10.18 0.00 L12.72 -0.85 L13.57 -1.71 L14.42 -3.42 L14.42 -6.84 L13.57 -8.55 L12.72 -9.40 L10.18 -10.26 M6.78 -10.26 L5.09 -9.40 L4.24 -8.55 L3.39 -6.84 L3.39 -3.42 L4.24 -1.71 L5.09 -0.85 L6.78 0.00 M10.18 0.00 L11.87 -0.85 L12.72 -1.71 L13.57 -3.42 L13.57 -6.84 L12.72 -8.55 L11.87 -9.40 L10.18 -10.26 M24.59 -17.95 L22.05 -17.10 L20.35 -14.54 L19.50 -10.26 L19.50 -7.70 L20.35 -3.42 L22.05 -0.85 L24.59 0.00 L26.29 0.00 L28.83 -0.85 L30.53 -3.42 L31.38 -7.70 L31.38 -10.26 L30.53 -14.54 L28.83 -17.10 L26.29 -17.95 L24.59 -17.95 M24.59 -17.95 L22.90 -17.10 L22.05 -16.25 L21.20 -14.54 L20.35 -10.26 L20.35 -7.70 L21.20 -3.42 L22.05 -1.71 L22.90 -0.85 L24.59 0.00 M26.29 0.00 L27.98 -0.85 L28.83 -1.71 L29.68 -3.42 L30.53 -7.70 L30.53 -10.26 L29.68 -14.54 L28.83 -16.25 L27.98 -17.10 L26.29 -17.95" stroke="#000" stroke-width="1.58" fill="none" stroke-linecap="round" stroke-linejoin="round"/>
<path transform="translate(75.45 473.05) translate(-33.92 0)" d="M13.57 -11.97 L12.72 -9.40 L11.02 -7.70 L8.48 -6.84 L7.63 -6.84 L5.09 -7.70 L3.39 -9.40 L2.54 -11.97 L2.54 -12.82 L3.39 -15.39 L5.09 -17.10 L7.63 -17.95 L9.33 -17.95 L11.87 -17.10 L13.57 -15.39 L14.42 -12.82 L14.42 -7.70 L13.57 -4.28 L12.72 -2.56 L11.02 -0.85 L8.48 0.00 L5.94 0.00 L4.24 -0.85 L3.39 -2.56 L3.39 -3.42 L4.24 -4.28 L5.09 -3.42 L4.24 -2.56 M7.63 -6.84 L5.94 -7.70 L4.24 -9.40 L3.39 -11.97 L3.39 -12.82 L4.24 -15.39 L5.94 -17.10 L7.63 -17.95 M9.33 -17.95 L11.02 -17.10 L12.72 -15.39 L13.57 -12.82 L13.57 -7.70 L12.72 -4.28 L11.87 -2.56 L10.18 -0.85 L8.48 0.00 M24.59 -17.95 L22.05 -17.10 L20.35 -14.54 L19.50 -10.26 L19.50 -7.70 L20.35 -3.42 L22.05 -0.85 L24.59 0.00 L26.29 0.00 L28.83 -0.85 L30.53 -3.42 L31.38 -7.70 L31.38 -10.26 L30.53 -14.54 L28.83 -17.10 L26.29 -17.95 L24.59 -17.95 M24.59 -17.95 L22.90 -17.10 L22.05 -16.25 L21.20 -14.54 L20.35 -10.26 L20.35 -7.70 L21.20 -3.42 L22.05 -1.71 L22.90 -0.85 L24.59 0.00 M26.29 0.00 L27.98 -0.85 L28.83 -1.71 L29.68 -3.42 L30.53 -7.70 L30.53 -10.26 L29.68 -14.54 L28.83 -16.25 L27.98 -17.10 L26.29 -17.95" stroke="#000" stroke-width="1.58" fill="none" stroke-linecap="round" stroke-linejoin="round"/>
<path transform="translate(75.45 418.73) translate(-50.88 0)" d="M5.09 -14.54 L6.78 -15.39 L9.33 -17.95 L9.33 0.00 M8.48 -17.10 L8.48 0.00 M5.34 0.00 L12.04 0.00 M24.59 -17.95 L22.05 -17.10 L20.35 -14.54 L19.50 -10.26 L19.50 -7.70 L20.35 -3.42 L22.05 -0.85 L24.59 0.00 L26.29 0.00 L28.83 -0.85 L30.53 -3.42 L31.38 -7.70 L31.38 -10.26 L30.53 -14.54 L28.83 -17.10 L26.29 -17.95 L24.59 -17.95 M24.59 -17.95 L22.90 -17.10 L22.05 -16.25 L21.20 -14.54 L20.35 -10.26 L20.35 -7.70 L21.20 -3.42 L22.05 -1.71 L22.90 -0.85 L24.59 0.00 M26.29 0.00 L27.98 -0.85 L28.83 -1.71 L29.68 -3.42 L30.53 -7.70 L30.53 -10.26 L29.68 -14.54 L28.83 -16.25 L27.98 -17.10 L26.29 -17.95 M41.55 -17.95 L39.01 -17.10 L37.31 -14.54 L36.46 -10.26 L36.46 -7.70 L37.31 -3.42 L39.01 -0.85 L41.55 0.00 L43.25 0.00 L45.79 -0.85 L47.49 -3.42 L48.34 -7.70 L48.34 -10.26 L47.49 -14.54 L45.79 -17.10 L43.25 -17.95 L41.55 -17.95 M41.55 -17.95 L39.86 -17.10 L39.01 -16.25 L38.16 -14.54 L37.31 -10.26 L37.31 -7.70 L38.16 -3.42 L39.01 -1.71 L39.86 -0.85 L41.55 0.00 M43.25 0.00 L44.94 -0.85 L45.79 -1.71 L46.64 -3.42 L47.49 -7.70 L47.49 -10.26 L46.64 -14.54 L45.79 -16.25 L44.94 -17.10 L43.25 -17.95" stroke="#000" stroke-width="1.58" fill="none" stroke-linecap="round" stroke-linejoin="round"/>
<path transform="translate(75.45 740.33) translate(-16.96 0)" d="M7.63 -17.95 L5.09 -17.10 L3.39 -14.54 L2.54 -10.26 L2.54 -7.70 L3.39 -3.42 L5.09 -0.85 L7.63 0.00 L9.33 0.00 L11.87 -0.85 L13.57 -3.42 L14.42 -7.70 L14.42 -10.26 L13.57 -14.54 L11.87 -17.10 L9.33 -17.95 L7.63 -17.95 M7.63 -17.95 L5.94 -17.10 L5.09 -16.25 L4.24 -14.54 L3.39 -10.26 L3.39 -7.70 L4.24 -3.42 L5.09 -1.71 L5.94 -0.85 L7.63 0.00 M9.33 0.00 L11.02 -0.85 L11.87 -1.71 L12.72 -3.42 L13.57 -7.70 L13.57 -10.26 L12.72 -14.54 L11.87 -16.25 L11.02 -17.10 L9.33 -17.95" stroke="#000" stroke-width="1.58" fill="none" stroke-linecap="round" stroke-linejoin="round"/>
<path transform="translate(75.45 689.13) translate(-16.96 0)" d="M4.24 -17.95 L2.54 -9.40 M2.54 -9.40 L4.24 -11.12 L6.78 -11.97 L9.33 -11.97 L11.87 -11.12 L13.57 -9.40 L14.42 -6.84 L14.42 -5.13 L13.57 -2.56 L11.87 -0.85 L9.33 0.00 L6.78 0.00 L4.24 -0.85 L3.39 -1.71 L2.54 -3.42 L2.54 -4.28 L3.39 -5.13 L4.24 -4.28 L3.39 -3.42 M9.33 -11.97 L11.02 -11.12 L12.72 -9.40 L13.57 -6.84 L13.57 -5.13 L12.72 -2.56 L11.02 -0.85 L9.33 0.00 M4.24 -17.95 L12.72 -17.95 M4.24 -17.10 L8.48 -17.10 L12.72 -17.95" stroke="#000" stroke-width="1.58" fill="none" stroke-linecap="round" stroke-linejoin="round"/>
<path transform="translate(75.45 637.93) translate(-33.92 0)" d="M5.09 -14.54 L6.78 -15.39 L9.33 -17.95 L9.33 0.00 M8.48 -17.10 L8.48 0.00 M5.34 0.00 L12.04 0.00 M24.59 -17.95 L22.05 -17.10 L20.35 -14.54 L19.50 -10.26 L19.50 -7.70 L20.35 -3.42 L22.05 -0.85 L24.59 0.00 L26.29 0.00 L28.83 -0.85 L30.53 -3.42 L31.38 -7.70 L31.38 -10.26 L30.53 -14.54 L28.83 -17.10 L26.29 -17.95 L24.59 -17.95 M24.59 -17.95 L22.90 -17.10 L22.05 -16.25 L21.20 -14.54 L20.35 -10.26 L20.35 -7.70 L21.20 -3.42 L22.05 -1.71 L22.90 -0.85 L24.59 0.00 M26.29 0.00 L27.98 -0.85 L28.83 -1.71 L29.68 -3.42 L30.53 -7.70 L30.53 -10.26 L29.68 -14.54 L28.83 -16.25 L27.98 -17.10 L26.29 -17.95" stroke="#000" stroke-width="1.58" fill="none" stroke-linecap="round" stroke-linejoin="round"/>
<path transform="translate(75.45 586.73) translate(-33.92 0)" d="M5.09 -14.54 L6.78 -15.39 L9.33 -17.95 L9.33 0.00 M8.48 -17.10 L8.48 0.00 M5.34 0.00 L12.04 0.00 M21.20 -17.95 L19.50 -9.40 M19.50 -9.40 L21.20 -11.12 L23.74 -11.97 L26.29 -11.97 L28.83 -11.12 L30.53 -9.40 L31.38 -6.84 L31.38 -5.13 L30.53 -2.56 L28.83 -0.85 L26.29 0.00 L23.74 0.00 L21.20 -0.85 L20.35 -1.71 L19.50 -3.42 L19.50 -4.28 L20.35 -5.13 L21.20 -4.28 L20.35 -3.42 M26.29 -11.97 L27.98 -11.12 L29.68 -9.40 L30.53 -6.84 L30.53 -5.13 L29.68 -2.56 L27.98 -0.85 L26.29 0.00 M21.20 -17.95 L29.68 -17.95 M21.20 -17.10 L25.44 -17.10 L29.68 -17.95" stroke="#000" stroke-width="1.58" fill="none" stroke-linecap="round" stroke-linejoin="round"/>
<path transform="translate(90.30 774.05) translate(-8.48 0)" d="M7.63 -17.95 L5.09 -17.10 L3.39 -14.54 L2.54 -10.26 L2.54 -7.70 L3.39 -3.42 L5.09 -0.85 L7.63 0.00 L9.33 0.00 L11.87 -0.85 L13.57 -3.42 L14.42 -7.70 L14.42 -10.26 L13.57 -14.54 L11.87 -17.10 L9.33 -17.95 L7.63 -17.95 M7.63 -17.95 L5.94 -17.10 L5.09 -16.25 L4.24 -14.54 L3.39 -10.26 L3.39 -7.70 L4.24 -3.42 L5.09 -1.71 L5.94 -0.85 L7.63 0.00 M9.33 0.00 L11.02 -0.85 L11.87 -1.71 L12.72 -3.42 L13.57 -7.70 L13.57 -10.26 L12.72 -14.54 L11.87 -16.25 L11.02 -17.10 L9.33 -17.95" stroke="#000" stroke-width="1.58" fill="none" stroke-linecap="round" stroke-linejoin="round"/>
<path transform="translate(203.30 767.45) translate(-16.68 0)" d="M8.34 -17.56 L2.50 0.00 M8.34 -17.56 L14.18 0.00 M8.34 -15.05 L13.34 0.00 M4.17 -5.02 L11.68 -5.02 M1.42 0.00 L5.84 0.00 M11.26 0.00 L15.26 0.00 M21.68 -14.21 L23.35 -15.05 L25.85 -17.56 L25.85 0.00 M25.02 -16.72 L25.02 0.00 M21.93 0.00 L28.52 0.00" stroke="#0000ff" stroke-width="1.58" fill="none" stroke-linecap="round" stroke-linejoin="round"/>
<path transform="translate(357.30 767.45) translate(-16.68 0)" d="M8.34 -17.56 L2.50 0.00 M8.34 -17.56 L14.18 0.00 M8.34 -15.05 L13.34 0.00 M4.17 -5.02 L11.68 -5.02 M1.42 0.00 L5.84 0.00 M11.26 0.00 L15.26 0.00 M20.02 -14.21 L20.85 -13.38 L20.02 -12.54 L19.18 -13.38 L19.18 -14.21 L20.02 -15.88 L20.85 -16.72 L23.35 -17.56 L26.69 -17.56 L29.19 -16.72 L30.02 -15.88 L30.86 -14.21 L30.86 -12.54 L30.02 -10.87 L27.52 -9.20 L23.35 -7.52 L21.68 -6.69 L20.02 -5.02 L19.18 -2.51 L19.18 0.00 M26.69 -17.56 L28.36 -16.72 L29.19 -15.88 L30.02 -14.21 L30.02 -12.54 L29.19 -10.87 L26.69 -9.20 L23.35 -7.52 M19.18 -1.67 L20.02 -2.51 L21.68 -2.51 L25.85 -0.84 L28.36 -0.84 L30.02 -1.67 L30.86 -2.51 M21.68 -2.51 L25.85 0.00 L29.19 0.00 L30.02 -0.84 L30.86 -2.51 L30.86 -4.18" stroke="#0000ff" stroke-width="1.58" fill="none" stroke-linecap="round" stroke-linejoin="round"/>
<path transform="translate(524.30 767.45) translate(-16.68 0)" d="M8.34 -17.56 L2.50 0.00 M8.34 -17.56 L14.18 0.00 M8.34 -15.05 L13.34 0.00 M4.17 -5.02 L11.68 -5.02 M1.42 0.00 L5.84 0.00 M11.26 0.00 L15.26 0.00 M20.02 -14.21 L20.85 -13.38 L20.02 -12.54 L19.18 -13.38 L19.18 -14.21 L20.02 -15.88 L20.85 -16.72 L23.35 -17.56 L26.69 -17.56 L29.19 -16.72 L30.02 -15.05 L30.02 -12.54 L29.19 -10.87 L26.69 -10.03 L24.19 -10.03 M26.69 -17.56 L28.36 -16.72 L29.19 -15.05 L29.19 -12.54 L28.36 -10.87 L26.69 -10.03 M26.69 -10.03 L28.36 -9.20 L30.02 -7.52 L30.86 -5.85 L30.86 -3.34 L30.02 -1.67 L29.19 -0.84 L26.69 0.00 L23.35 0.00 L20.85 -0.84 L20.02 -1.67 L19.18 -3.34 L19.18 -4.18 L20.02 -5.02 L20.85 -4.18 L20.02 -3.34 M29.19 -8.36 L30.02 -5.85 L30.02 -3.34 L29.19 -1.67 L28.36 -0.84 L26.69 0.00" stroke="#0000ff" stroke-width="1.58" fill="none" stroke-linecap="round" stroke-linejoin="round"/>
<path transform="translate(691.30 767.45) translate(-16.68 0)" d="M8.34 -17.56 L2.50 0.00 M8.34 -17.56 L14.18 0.00 M8.34 -15.05 L13.34 0.00 M4.17 -5.02 L11.68 -5.02 M1.42 0.00 L5.84 0.00 M11.26 0.00 L15.26 0.00 M26.69 -15.88 L26.69 0.00 M27.52 -17.56 L27.52 0.00 M27.52 -17.56 L18.35 -5.02 L31.69 -5.02 M24.19 0.00 L30.02 0.00" stroke="#0000ff" stroke-width="1.58" fill="none" stroke-linecap="round" stroke-linejoin="round"/>
<path transform="translate(438.40 808.25) translate(-31.69 0)" d="M4.17 -10.03 L4.17 -9.20 L3.34 -9.20 L3.34 -10.03 L4.17 -10.87 L5.84 -11.70 L9.17 -11.70 L10.84 -10.87 L11.68 -10.03 L12.51 -8.36 L12.51 -2.51 L13.34 -0.84 L14.18 0.00 M11.68 -10.03 L11.68 -2.51 L12.51 -0.84 L14.18 0.00 L15.01 0.00 M11.68 -8.36 L10.84 -7.52 L5.84 -6.69 L3.34 -5.85 L2.50 -4.18 L2.50 -2.51 L3.34 -0.84 L5.84 0.00 L8.34 0.00 L10.01 -0.84 L11.68 -2.51 M5.84 -6.69 L4.17 -5.85 L3.34 -4.18 L3.34 -2.51 L4.17 -0.84 L5.84 0.00 M20.85 -11.70 L20.85 0.00 M21.68 -11.70 L21.68 0.00 M21.68 -6.69 L22.52 -9.20 L24.19 -10.87 L25.85 -11.70 L28.36 -11.70 L29.19 -10.87 L29.19 -10.03 L28.36 -9.20 L27.52 -10.03 L28.36 -10.87 M18.35 -11.70 L21.68 -11.70 M18.35 0.00 L24.19 0.00 M34.19 -6.69 L44.20 -6.69 L44.20 -8.36 L43.37 -10.03 L42.53 -10.87 L40.87 -11.70 L38.36 -11.70 L35.86 -10.87 L34.19 -9.20 L33.36 -6.69 L33.36 -5.02 L34.19 -2.51 L35.86 -0.84 L38.36 0.00 L40.03 0.00 L42.53 -0.84 L44.20 -2.51 M43.37 -6.69 L43.37 -9.20 L42.53 -10.87 M38.36 -11.70 L36.70 -10.87 L35.03 -9.20 L34.19 -6.69 L34.19 -5.02 L35.03 -2.51 L36.70 -0.84 L38.36 0.00 M50.87 -10.03 L50.87 -9.20 L50.04 -9.20 L50.04 -10.03 L50.87 -10.87 L52.54 -11.70 L55.88 -11.70 L57.55 -10.87 L58.38 -10.03 L59.21 -8.36 L59.21 -2.51 L60.05 -0.84 L60.88 0.00 M58.38 -10.03 L58.38 -2.51 L59.21 -0.84 L60.88 0.00 L61.72 0.00 M58.38 -8.36 L57.55 -7.52 L52.54 -6.69 L50.04 -5.85 L49.21 -4.18 L49.21 -2.51 L50.04 -0.84 L52.54 0.00 L55.04 0.00 L56.71 -0.84 L58.38 -2.51 M52.54 -6.69 L50.87 -5.85 L50.04 -4.18 L50.04 -2.51 L50.87 -0.84 L52.54 0.00" stroke="#000" stroke-width="1.58" fill="none" stroke-linecap="round" stroke-linejoin="round"/>
<path transform="translate(25.30 393.05) rotate(-90) translate(-188.90 0)" d="M4.17 -11.70 L4.17 5.85 M5.00 -11.70 L5.00 5.85 M5.00 -9.20 L6.67 -10.87 L8.34 -11.70 L10.01 -11.70 L12.51 -10.87 L14.18 -9.20 L15.01 -6.69 L15.01 -5.02 L14.18 -2.51 L12.51 -0.84 L10.01 0.00 L8.34 0.00 L6.67 -0.84 L5.00 -2.51 M10.01 -11.70 L11.68 -10.87 L13.34 -9.20 L14.18 -6.69 L14.18 -5.02 L13.34 -2.51 L11.68 -0.84 L10.01 0.00 M1.67 -11.70 L5.00 -11.70 M1.67 5.85 L7.51 5.85 M21.68 -17.56 L20.85 -16.72 L21.68 -15.88 L22.52 -16.72 L21.68 -17.56 M21.68 -11.70 L21.68 0.00 M22.52 -11.70 L22.52 0.00 M19.18 -11.70 L22.52 -11.70 M19.18 0.00 L25.02 0.00 M30.02 -11.70 L39.20 0.00 M30.86 -11.70 L40.03 0.00 M40.03 -11.70 L30.02 0.00 M28.36 -11.70 L33.36 -11.70 M36.70 -11.70 L41.70 -11.70 M28.36 0.00 L33.36 0.00 M36.70 0.00 L41.70 0.00 M46.70 -6.69 L56.71 -6.69 L56.71 -8.36 L55.88 -10.03 L55.04 -10.87 L53.38 -11.70 L50.87 -11.70 L48.37 -10.87 L46.70 -9.20 L45.87 -6.69 L45.87 -5.02 L46.70 -2.51 L48.37 -0.84 L50.87 0.00 L52.54 0.00 L55.04 -0.84 L56.71 -2.51 M55.88 -6.69 L55.88 -9.20 L55.04 -10.87 M50.87 -11.70 L49.21 -10.87 L47.54 -9.20 L46.70 -6.69 L46.70 -5.02 L47.54 -2.51 L49.21 -0.84 L50.87 0.00 M63.38 -17.56 L63.38 0.00 M64.22 -17.56 L64.22 0.00 M60.88 -17.56 L64.22 -17.56 M60.88 0.00 L66.72 0.00 M85.90 -11.70 L85.90 0.00 M86.74 -11.70 L86.74 0.00 M86.74 -9.20 L88.40 -10.87 L90.91 -11.70 L92.57 -11.70 L95.08 -10.87 L95.91 -9.20 L95.91 0.00 M92.57 -11.70 L94.24 -10.87 L95.08 -9.20 L95.08 0.00 M83.40 -11.70 L86.74 -11.70 M83.40 0.00 L89.24 0.00 M92.57 0.00 L98.41 0.00 M104.25 -11.70 L104.25 -2.51 L105.08 -0.84 L107.59 0.00 L109.25 0.00 L111.76 -0.84 L113.42 -2.51 M105.08 -11.70 L105.08 -2.51 L105.92 -0.84 L107.59 0.00 M113.42 -11.70 L113.42 0.00 M114.26 -11.70 L114.26 0.00 M101.75 -11.70 L105.08 -11.70 M110.92 -11.70 L114.26 -11.70 M113.42 0.00 L116.76 0.00 M122.60 -11.70 L122.60 0.00 M123.43 -11.70 L123.43 0.00 M123.43 -9.20 L125.10 -10.87 L127.60 -11.70 L129.27 -11.70 L131.77 -10.87 L132.61 -9.20 L132.61 0.00 M129.27 -11.70 L130.94 -10.87 L131.77 -9.20 L131.77 0.00 M132.61 -9.20 L134.27 -10.87 L136.78 -11.70 L138.44 -11.70 L140.95 -10.87 L141.78 -9.20 L141.78 0.00 M138.44 -11.70 L140.11 -10.87 L140.95 -9.20 L140.95 0.00 M120.10 -11.70 L123.43 -11.70 M120.10 0.00 L125.93 0.00 M129.27 0.00 L135.11 0.00 M138.44 0.00 L144.28 0.00 M150.12 -17.56 L150.12 0.00 M150.95 -17.56 L150.95 0.00 M150.95 -9.20 L152.62 -10.87 L154.29 -11.70 L155.96 -11.70 L158.46 -10.87 L160.13 -9.20 L160.96 -6.69 L160.96 -5.02 L160.13 -2.51 L158.46 -0.84 L155.96 0.00 L154.29 0.00 L152.62 -0.84 L150.95 -2.51 M155.96 -11.70 L157.63 -10.87 L159.29 -9.20 L160.13 -6.69 L160.13 -5.02 L159.29 -2.51 L157.63 -0.84 L155.96 0.00 M147.62 -17.56 L150.95 -17.56 M166.80 -6.69 L176.81 -6.69 L176.81 -8.36 L175.97 -10.03 L175.14 -10.87 L173.47 -11.70 L170.97 -11.70 L168.47 -10.87 L166.80 -9.20 L165.97 -6.69 L165.97 -5.02 L166.80 -2.51 L168.47 -0.84 L170.97 0.00 L172.64 0.00 L175.14 -0.84 L176.81 -2.51 M175.97 -6.69 L175.97 -9.20 L175.14 -10.87 M170.97 -11.70 L169.30 -10.87 L167.63 -9.20 L166.80 -6.69 L166.80 -5.02 L167.63 -2.51 L169.30 -0.84 L170.97 0.00 M183.48 -11.70 L183.48 0.00 M184.31 -11.70 L184.31 0.00 M184.31 -6.69 L185.15 -9.20 L186.82 -10.87 L188.48 -11.70 L190.99 -11.70 L191.82 -10.87 L191.82 -10.03 L190.99 -9.20 L190.15 -10.03 L190.99 -10.87 M180.98 -11.70 L184.31 -11.70 M180.98 0.00 L186.82 0.00 M215.17 -16.72 L214.34 -15.88 L215.17 -15.05 L216.01 -15.88 L216.01 -16.72 L215.17 -17.56 L213.50 -17.56 L211.84 -16.72 L211.00 -15.05 L211.00 0.00 M213.50 -17.56 L212.67 -16.72 L211.84 -15.05 L211.84 0.00 M208.50 -11.70 L215.17 -11.70 M208.50 0.00 L214.34 0.00 M221.84 -11.70 L221.84 0.00 M222.68 -11.70 L222.68 0.00 M222.68 -6.69 L223.51 -9.20 L225.18 -10.87 L226.85 -11.70 L229.35 -11.70 L230.18 -10.87 L230.18 -10.03 L229.35 -9.20 L228.52 -10.03 L229.35 -10.87 M219.34 -11.70 L222.68 -11.70 M219.34 0.00 L225.18 0.00 M236.02 -10.03 L236.02 -9.20 L235.19 -9.20 L235.19 -10.03 L236.02 -10.87 L237.69 -11.70 L241.03 -11.70 L242.69 -10.87 L243.53 -10.03 L244.36 -8.36 L244.36 -2.51 L245.20 -0.84 L246.03 0.00 M243.53 -10.03 L243.53 -2.51 L244.36 -0.84 L246.03 0.00 L246.86 0.00 M243.53 -8.36 L242.69 -7.52 L237.69 -6.69 L235.19 -5.85 L234.35 -4.18 L234.35 -2.51 L235.19 -0.84 L237.69 0.00 L240.19 0.00 L241.86 -0.84 L243.53 -2.51 M237.69 -6.69 L236.02 -5.85 L235.19 -4.18 L235.19 -2.51 L236.02 -0.84 L237.69 0.00 M261.04 -9.20 L260.21 -8.36 L261.04 -7.52 L261.88 -8.36 L261.88 -9.20 L260.21 -10.87 L258.54 -11.70 L256.04 -11.70 L253.54 -10.87 L251.87 -9.20 L251.03 -6.69 L251.03 -5.02 L251.87 -2.51 L253.54 -0.84 L256.04 0.00 L257.71 0.00 L260.21 -0.84 L261.88 -2.51 M256.04 -11.70 L254.37 -10.87 L252.70 -9.20 L251.87 -6.69 L251.87 -5.02 L252.70 -2.51 L254.37 -0.84 L256.04 0.00 M268.55 -17.56 L268.55 -3.34 L269.38 -0.84 L271.05 0.00 L272.72 0.00 L274.39 -0.84 L275.22 -2.51 M269.38 -17.56 L269.38 -3.34 L270.22 -0.84 L271.05 0.00 M266.05 -11.70 L272.72 -11.70 M281.06 -17.56 L280.22 -16.72 L281.06 -15.88 L281.89 -16.72 L281.06 -17.56 M281.06 -11.70 L281.06 0.00 M281.89 -11.70 L281.89 0.00 M278.56 -11.70 L281.89 -11.70 M278.56 0.00 L284.39 0.00 M293.57 -11.70 L291.07 -10.87 L289.40 -9.20 L288.56 -6.69 L288.56 -5.02 L289.40 -2.51 L291.07 -0.84 L293.57 0.00 L295.24 0.00 L297.74 -0.84 L299.41 -2.51 L300.24 -5.02 L300.24 -6.69 L299.41 -9.20 L297.74 -10.87 L295.24 -11.70 L293.57 -11.70 M293.57 -11.70 L291.90 -10.87 L290.23 -9.20 L289.40 -6.69 L289.40 -5.02 L290.23 -2.51 L291.90 -0.84 L293.57 0.00 M295.24 0.00 L296.90 -0.84 L298.57 -2.51 L299.41 -5.02 L299.41 -6.69 L298.57 -9.20 L296.90 -10.87 L295.24 -11.70 M306.91 -11.70 L306.91 0.00 M307.75 -11.70 L307.75 0.00 M307.75 -9.20 L309.41 -10.87 L311.92 -11.70 L313.58 -11.70 L316.09 -10.87 L316.92 -9.20 L316.92 0.00 M313.58 -11.70 L315.25 -10.87 L316.09 -9.20 L316.09 0.00 M304.41 -11.70 L307.75 -11.70 M304.41 0.00 L310.25 0.00 M313.58 0.00 L319.42 0.00 M337.77 -20.90 L337.77 5.85 M338.60 -20.90 L338.60 5.85 M337.77 -20.90 L343.61 -20.90 M337.77 5.85 L343.61 5.85 M363.62 -17.56 L348.61 0.00 M352.78 -17.56 L354.45 -15.88 L354.45 -14.21 L353.62 -12.54 L351.95 -11.70 L350.28 -11.70 L348.61 -13.38 L348.61 -15.05 L349.45 -16.72 L351.11 -17.56 L352.78 -17.56 L354.45 -16.72 L356.95 -15.88 L359.45 -15.88 L361.96 -16.72 L363.62 -17.56 M360.29 -5.85 L358.62 -5.02 L357.79 -3.34 L357.79 -1.67 L359.45 0.00 L361.12 0.00 L362.79 -0.84 L363.62 -2.51 L363.62 -4.18 L361.96 -5.85 L360.29 -5.85 M373.63 -20.90 L373.63 5.85 M374.47 -20.90 L374.47 5.85 M368.63 -20.90 L374.47 -20.90 M368.63 5.85 L374.47 5.85" stroke="#000" stroke-width="1.58" fill="none" stroke-linecap="round" stroke-linejoin="round"/>
</svg>
</body></html>
